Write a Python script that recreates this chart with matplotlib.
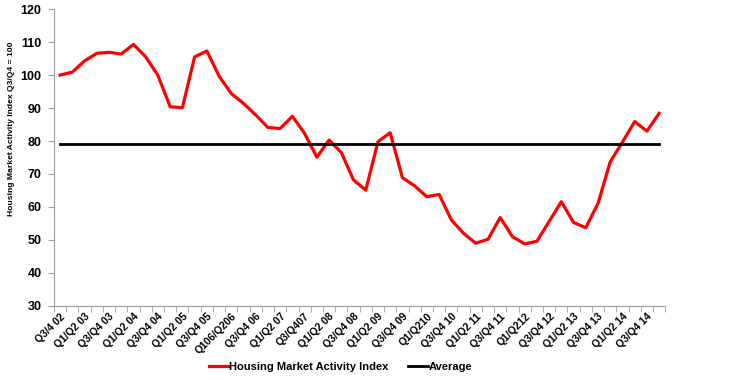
import numpy as np
import matplotlib.pyplot as plt

plt.rcParams['font.family'] = ['Liberation Sans', 'DejaVu Sans']

# quarterly index, Q3 2002 .. Q4 2014
index_values = [100.0, 100.9, 104.3, 106.6, 106.9, 106.4, 109.3, 105.5, 99.9, 90.4,
                90.1, 105.5, 107.3, 99.7, 94.4, 91.4, 87.9, 84.1, 83.8, 87.5,
                82.3, 75.1, 80.3, 76.5, 68.2, 65.1, 79.8, 82.5, 68.9, 66.4,
                63.1, 63.8, 56.1, 52.0, 49.0, 50.2, 56.8, 51.0, 48.8, 49.6,
                55.6, 61.6, 55.3, 53.7, 61.1, 73.7, 79.7, 85.9, 83.0, 88.4]
average = 79.0
tick_labels = ['Q3/4 02', 'Q1/Q2 03', 'Q3/Q4 03', 'Q1/Q2 04', 'Q3/Q4 04',
               'Q1/Q2 05', 'Q3/Q4 05', 'Q106/Q206', 'Q3/Q4 06', 'Q1/Q2 07',
               'Q3/Q407', 'Q1/Q2 08', 'Q3/Q4 08', 'Q1/Q2 09', 'Q3/Q4 09',
               'Q1/Q210', 'Q3/Q4 10', 'Q1/Q2 11', 'Q3/Q4 11', 'Q1/Q212',
               'Q3/Q4 12', 'Q1/Q2 13', 'Q3/Q4 13', 'Q1/Q2 14', 'Q3/Q4 14']

x = np.arange(len(index_values))

fig = plt.figure(figsize=(7.4, 3.8), dpi=100)
ax = fig.add_axes([0.073, 0.195, 0.826, 0.781])

ax.plot(x, index_values, color='#ff0000', lw=2.3, label='Housing Market Activity Index')
ax.plot(x, [average] * len(x), color='black', lw=2.0, label='Average')

ax.set_xlim(-0.5, len(x) - 0.5)
ax.set_ylim(30, 120)
ax.set_yticks(range(30, 121, 10))
ax.tick_params(axis='y', labelsize=9, length=4, color='#a0a0a0', pad=5)
for lbl in ax.get_yticklabels():
    lbl.set_fontweight('bold')

# ticks between categories, labels on every other quarter
ax.set_xticks(np.arange(-0.5, len(x), 1.0), minor=True)
ax.set_xticks(x[::2])
ax.set_xticklabels(tick_labels, rotation=45, ha='right', rotation_mode='anchor',
                   fontsize=7.5, fontweight='bold')
ax.tick_params(axis='x', which='major', length=0, pad=4)
ax.tick_params(axis='x', which='minor', length=4, color='#a0a0a0')

ax.set_ylabel('Housing Market Activity Index Q3/Q4 = 100', fontsize=6.1, fontweight='bold')
ax.yaxis.set_label_coords(-0.064, 0.596)

for s in ['top', 'right']:
    ax.spines[s].set_visible(False)
for s in ['left', 'bottom']:
    ax.spines[s].set_color('#a0a0a0')

fig.legend(loc='center', bbox_to_anchor=(0.46, 0.034), ncol=2, frameon=False,
           prop={'weight': 'bold', 'size': 8}, handlelength=1.8, handletextpad=0.05,
           columnspacing=1.7)

fig.savefig('out.png', dpi=100)
